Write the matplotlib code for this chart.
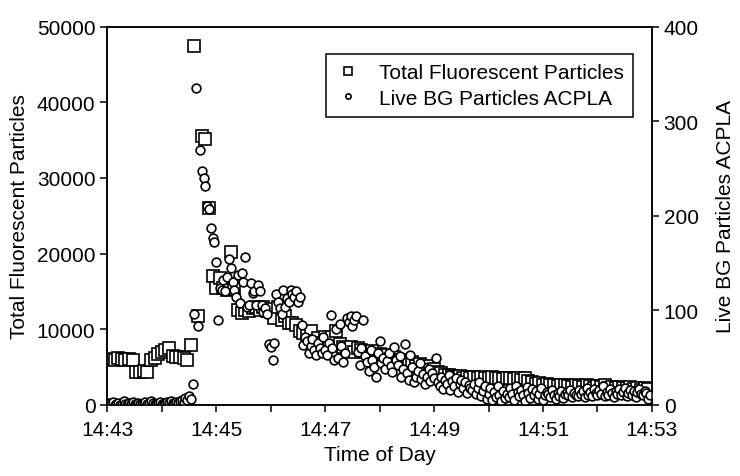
from datetime import datetime, timedelta
import matplotlib
matplotlib.use("Agg")
import matplotlib.pyplot as plt
import matplotlib.dates as mdates

plt.rcParams['font.family'] = ['Liberation Sans', 'DejaVu Sans']

# start of the record and sampling steps (seconds)
start = datetime(2000, 1, 1, 14, 43, 0)
step_total = 4
step_live = 2

# Total Fluorescent Particles, one value every 4 s from 14:43:04
total_fluor = [
    6100, 6000, 6150, 6050, 5950, 6100, 5900, 4400, 4300, 4500,
    4400, 5900, 6200, 6700, 7000, 7300, 7500, 6500, 6300, 6400,
    6200, 5900, 7900, 47500, 11800, 35500, 35200, 26000, 17000, 15500,
    16800, 15500, 15200, 20200, 15300, 12500, 12200, 12600, 12400, 12800,
    12900, 12500, 13000, 12400, 12700, 11500, 12900, 11200, 11800, 10800,
    10800, 10500, 9800, 9500, 9200, 9800, 8500, 8800, 8200, 9000,
    8500, 9000, 9800, 8000, 7700, 7300, 7600, 7000, 7500, 7200,
    7000, 6800, 7100, 6500, 6700, 6300, 6600, 6100, 6400, 6000,
    6000, 5800, 5500, 5700, 5200, 5400, 4900, 5100, 4600, 4800,
    4400, 4200, 4000, 3900, 3800, 3700, 3800, 3600, 3700, 3600,
    3700, 3600, 3700, 3500, 3600, 3700, 3500, 3600, 3400, 3500,
    3500, 3400, 3600, 3300, 3500, 3200, 3000, 2800, 2900, 2700,
    2800, 2600, 2700, 2500, 2600, 2700, 2500, 2400, 2600, 2500,
    2400, 2600, 2500, 2300, 2500, 2400, 2600, 2300, 2400, 2200,
    2400, 2300, 2200, 2400, 2100, 2300, 2000, 2200, 2100,
]

# Live BG Particles ACPLA, one value every 2 s from 14:43:02
live_bg = [
    2, 1, 3, 0, 1, 2, 0, 1, 4, 1, 0, 2, 1, 3, 1, 0, 2, 1, 1, 2,
    3, 1, 2, 4, 2, 1, 0, 2, 3, 1, 2, 1, 3, 2, 4, 2, 1, 3, 2, 4,
    5, 3, 7, 5, 9, 6, 22, 96, 335, 83, 270, 247, 240, 231, 210, 207, 187, 176, 172, 151,
    90, 124, 122, 132, 120, 135, 154, 145, 130, 122, 114, 137, 108, 140, 130, 156, 104, 106, 129, 118,
    121, 106, 127, 120, 106, 98, 103, 96, 64, 61, 47, 66, 117, 109, 103, 96, 122, 104, 113, 109,
    122, 117, 114, 120, 109, 114, 85, 63, 72, 68, 55, 62, 70, 58, 53, 65, 60, 55, 72, 58,
    53, 66, 95, 60, 48, 80, 50, 86, 62, 45, 55, 92, 88, 94, 83, 90, 94, 56, 42, 60,
    90, 52, 45, 36, 58, 48, 40, 30, 55, 68, 44, 50, 38, 46, 55, 41, 35, 61, 48, 42,
    52, 30, 38, 64, 34, 26, 53, 40, 24, 30, 36, 44, 27, 33, 22, 30, 38, 25, 34, 28,
    50, 24, 20, 30, 17, 26, 22, 32, 16, 25, 20, 28, 14, 22, 26, 18, 24, 13, 21, 18,
    16, 22, 12, 18, 24, 9, 15, 20, 6, 12, 18, 5, 14, 8, 20, 10, 4, 15, 7, 12,
    8, 18, 12, 5, 20, 14, 9, 16, 11, 4, 19, 13, 7, 17, 10, 15, 6, 12, 18, 5,
    10, 14, 12, 8, 16, 11, 6, 13, 9, 15, 7, 12, 14, 10, 16, 8, 13, 11, 9, 16,
    12, 15, 8, 18, 11, 14, 9, 17, 13, 10, 16, 12, 20, 9, 14, 11, 17, 13, 8, 15,
    12, 17, 10, 14, 18, 9, 13, 16, 11, 15, 8, 14, 17, 12, 10, 15, 13, 6, 11,
]

t_total = [start + timedelta(seconds=step_total * (i + 1)) for i in range(len(total_fluor))]
t_live = [start + timedelta(seconds=step_live * (i + 1)) for i in range(len(live_bg))]

fig = plt.figure(figsize=(7.4, 4.77), dpi=100)
ax = fig.add_axes([0.145, 0.149, 0.736, 0.793])
ax2 = ax.twinx()

l1, = ax.plot(t_total, total_fluor, linestyle='none', marker='s', markersize=8.5,
              markerfacecolor='white', markeredgecolor='black', markeredgewidth=1.2)
l2, = ax2.plot(t_live, live_bg, linestyle='none', marker='o', markersize=6.3,
               markerfacecolor='white', markeredgecolor='black', markeredgewidth=1.2)

ax.set_xlim(start, start + timedelta(minutes=10))
ax.set_ylim(0, 50000)
ax2.set_ylim(0, 400)
ax.set_yticks(range(0, 50001, 10000))
ax2.set_yticks(range(0, 401, 100))

ax.xaxis.set_major_locator(mdates.MinuteLocator(byminute=[43, 45, 47, 49, 51, 53]))
ax.xaxis.set_minor_locator(mdates.MinuteLocator())
ax.xaxis.set_major_formatter(mdates.DateFormatter('%H:%M'))

for a in (ax, ax2):
    for sp in a.spines.values():
        sp.set_linewidth(1.1)
    a.tick_params(direction='out', length=5, width=1.1, labelsize=15, colors='black')
ax.tick_params(axis='x', which='minor', direction='out', length=5, width=1.1)
ax.tick_params(axis='x', pad=6)

ax.set_xlabel('Time of Day', fontsize=15, labelpad=4)
ax.set_ylabel('Total Fluorescent Particles', fontsize=15, labelpad=6)
ax2.set_ylabel('Live BG Particles ACPLA', fontsize=15, labelpad=12)

leg = ax2.legend([l1, l2], ['Total Fluorescent Particles', 'Live BG Particles ACPLA'],
                 loc='upper right', bbox_to_anchor=(0.985, 0.955), fontsize=15,
                 frameon=True, fancybox=False, edgecolor='black', framealpha=1,
                 handlelength=1.2, handletextpad=0.9, borderpad=0.45, labelspacing=0.3,
                 markerscale=0.6)
leg.get_frame().set_linewidth(1.1)

fig.savefig('out.png', dpi=100)
